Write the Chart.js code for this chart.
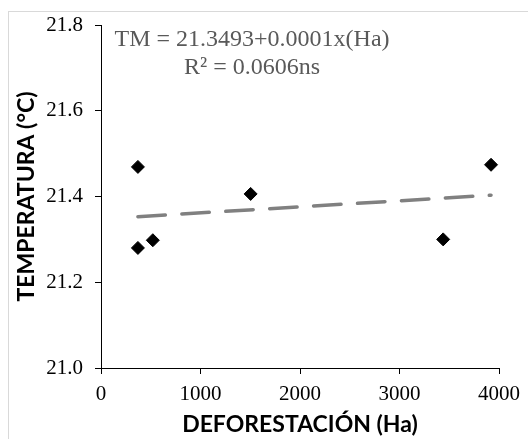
<!DOCTYPE html>
<html>
<head>
<meta charset="utf-8">
<script src="https://cdn.jsdelivr.net/npm/chart.js@4/dist/chart.umd.min.js"></script>
<style>
  html, body { margin: 0; padding: 0; background: #fff; }
  #wrap { position: relative; width: 528px; height: 439px; }
</style>
</head>
<body>
<div id="wrap"><canvas id="deforest_chart" width="528" height="439"></canvas></div>
<script>
// observed points: deforested area (Ha) vs mean temperature
const deforestHa = [371, 1504, 371, 521, 3439, 3920];
const tempC = [21.469, 21.406, 21.280, 21.298, 21.300, 21.474];

// linear trend endpoints as seen on the picture
const trendHa = [371, 3920];
const trendC = [21.353, 21.403];

const xTicks = [0, 1000, 2000, 3000, 4000];
const yTicks = [21.0, 21.2, 21.4, 21.6, 21.8];

const eqLines = ['TM = 21.3493+0.0001x(Ha)', 'R\u00b2 = 0.0606ns'];

const serif = "'Liberation Serif', 'Times New Roman', serif";
const sans = "Lato, 'Open Sans', sans-serif";

// light grey frame + regression label
const frame_plugin = {
    id: 'frame',
    beforeDraw(chart) {
        const ctx = chart.ctx;
        ctx.save();
        ctx.strokeStyle = '#d9d9d9';
        ctx.lineWidth = 1;
        ctx.strokeRect(8.5, 11.5, 1000, 1000);
        ctx.restore();
    },
    afterDraw(chart) {
        const ctx = chart.ctx;
        const area = chart.chartArea;
        ctx.save();
        ctx.fillStyle = '#595959';
        ctx.font = '24px ' + serif;
        ctx.textAlign = 'center';
        ctx.textBaseline = 'middle';
        ctx.fillText(eqLines[0], area.left + 151, area.top + 15);
        ctx.fillText(eqLines[1], area.left + 151, area.top + 43);
        ctx.restore();
    }
};

const points = deforestHa.map((x, i) => ({ x: x, y: tempC[i] }));
const trend = trendHa.map((x, i) => ({ x: x, y: trendC[i] }));

var canvas = document.getElementById('deforest_chart');
var setup = {
    type: 'scatter',
    data: {
        datasets: [
            {
                label: 'TM',
                data: points,
                pointStyle: 'rectRot',
                pointRadius: 6.5,
                pointBorderWidth: 1,
                backgroundColor: '#000',
                borderColor: '#000',
                order: 1
            },
            {
                label: 'Lineal',
                type: 'line',
                data: trend,
                showLine: true,
                pointRadius: 0,
                borderColor: '#808080',
                borderWidth: 3.5,
                borderDash: [27.5, 16.5],
                borderCapStyle: 'round',
                fill: false,
                order: 2
            }
        ]
    },
    options: {
        responsive: false,
        animation: false,
        layout: { padding: { top: 25, right: 28, bottom: 0, left: 0 } },
        plugins: {
            legend: { display: false },
            tooltip: { enabled: false }
        },
        scales: {
            x: {
                type: 'linear',
                min: 0,
                max: 4000,
                afterBuildTicks: (s) => { s.ticks = xTicks.map(v => ({ value: v })); },
                afterFit: (s) => { s.height = 71; },
                grid: { drawOnChartArea: false, drawTicks: true, tickLength: 6, color: '#000' },
                border: { display: true, color: '#000', width: 1 },
                ticks: {
                    color: '#000',
                    padding: 8,
                    font: { family: serif, size: 21 },
                    maxRotation: 0,
                    callback: (v) => String(v)
                },
                title: {
                    display: true,
                    text: 'DEFORESTACIÓN (Ha)',
                    color: '#000',
                    font: { family: sans, size: 23, weight: 'bold' },
                    padding: { top: 0, bottom: 1 }
                }
            },
            y: {
                type: 'linear',
                min: 21.0,
                max: 21.8,
                afterBuildTicks: (s) => { s.ticks = yTicks.map(v => ({ value: v })); },
                afterFit: (s) => { s.width = 101; },
                grid: { drawOnChartArea: false, drawTicks: true, tickLength: 6, color: '#000' },
                border: { display: true, color: '#000', width: 1 },
                ticks: {
                    color: '#000',
                    padding: 12,
                    font: { family: serif, size: 21 },
                    callback: (v) => Number(v).toFixed(1)
                },
                title: {
                    display: true,
                    text: 'TEMPERATURA (°C)',
                    color: '#000',
                    font: { family: sans, size: 23, weight: 'bold' },
                    padding: { top: 13, bottom: 0 }
                }
            }
        }
    },
    plugins: [frame_plugin]
};
var chart = new Chart(canvas, setup);
</script>
</body>
</html>
